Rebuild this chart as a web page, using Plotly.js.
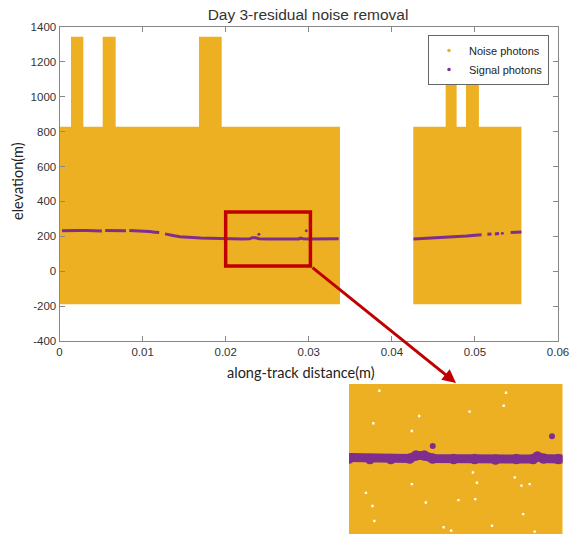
<!DOCTYPE html>
<html>
<head>
<meta charset="utf-8">
<script src="https://cdn.plot.ly/plotly-3.0.1.min.js"></script>
<style>
  html, body { margin: 0; padding: 0; background: #fff; }
  #chart { width: 570px; height: 536px; }
</style>
</head>
<body>
<div id="chart"></div>
<script>
// Noise photon footprint: along-track extent and elevation span of each block
const noiseStart = [0, 0.00138, 0.0052, 0.01679, 0.04258, 0.04648, 0.04892];
const noiseEnd   = [0.03376, 0.00287, 0.00676, 0.01952, 0.0556, 0.0478, 0.05048];
const noiseLow   = [-190, 800, 800, 800, -190, 800, 800];
const noiseHigh  = [828, 1344, 1344, 1344, 828, 1344, 1344];

// Signal photons (ground track), gaps marked with null
const signalX = [
  0.0003, 0.0012, 0.0022, 0.0032, 0.0042, 0.0051, null,
  0.0055, 0.0063, 0.0071, 0.0080, null,
  0.0084, 0.0092, 0.0100, 0.0108, 0.0115, 0.0120, null,
  0.0127, 0.0132, 0.0138, 0.0145, 0.0152, 0.0160, 0.0170, 0.0180, 0.0190, 0.0200,
  0.0210, 0.0220, 0.0229, 0.0232, 0.0236, 0.0240, 0.0250, 0.0260, 0.0270, 0.0280,
  0.0288, 0.0290, 0.0293, 0.0300, 0.0310, 0.0320, 0.0328, 0.0336, null,
  0.0426, 0.0435, 0.0445, 0.0455, 0.0465, 0.0475, 0.0482, 0.0490, 0.0497, 0.0502, 0.0508, null,
  0.0515, 0.0520, null,
  0.0524, 0.0529, null,
  0.0543, 0.0550, 0.0556
];
const signalY = [
  232, 234, 234, 233, 232, 231, null,
  233, 234, 233, 232, null,
  233, 232, 230, 227, 224, 222, null,
  214, 208, 203, 198, 195, 193, 190, 189, 187, 186,
  185, 185, 186, 192, 192, 186, 185, 185, 184, 185,
  185, 190, 186, 185, 186, 186, 185, 186, null,
  185, 187, 189, 191, 194, 197, 199, 202, 205, 207, 209, null,
  212, 213, null,
  214, 216, null,
  222, 224, 225
];

// Isolated signal photons
const strayX = [0.0240, 0.0297, 0.0533];
const strayY = [212, 232, 218];

// Empty spots inside the noise field (zoomed window)
const gapX = [0.02145, 0.0275, 0.02335, 0.02116, 0.0230, 0.02739, 0.02576, 0.02592, 0.02792,
              0.02611, 0.02863, 0.02824, 0.02081, 0.02603, 0.02367, 0.02112, 0.02832, 0.02121,
              0.02683, 0.02452, 0.02887, 0.02488, 0.0230, 0.02523];
const gapY = [326, 322, 274, 259, 243, 295, 283, 157, 147,
              136, 133, 130, 115, 102, 95, 88, 71, 57,
              47, 44, 35, 37, 133, 100];

// Zoom window
const zoomX = [0.02, 0.0302];
const zoomY = [30, 340];

// Axis ticks
const xTicks = [0, 0.01, 0.02, 0.03, 0.04, 0.05, 0.06];
const xTickText = ['0', '0.01', '0.02', '0.03', '0.04', '0.05', '0.06'];
const yTicks = [-400, -200, 0, 200, 400, 600, 800, 1000, 1200, 1400];

const ORANGE = '#ECB022';
const PURPLE = '#7E2F8E';
const RED = '#C00000';

function blocks() {
  const x = [], y = [];
  for (let i = 0; i < noiseStart.length; i++) {
    x.push(noiseStart[i], noiseEnd[i], noiseEnd[i], noiseStart[i], noiseStart[i], null);
    y.push(noiseLow[i], noiseLow[i], noiseHigh[i], noiseHigh[i], noiseLow[i], null);
  }
  return { x, y };
}
const nb = blocks();

function noiseTrace(xa, ya) {
  return { x: nb.x, y: nb.y, xaxis: xa, yaxis: ya, type: 'scatter', mode: 'lines',
    fill: 'toself', fillcolor: ORANGE, line: { width: 0, color: ORANGE },
    hoverinfo: 'skip', showlegend: false };
}

const data = [
  // main view
  noiseTrace('x', 'y'),
  { x: signalX, y: signalY, type: 'scatter', mode: 'lines',
    line: { color: PURPLE, width: 3 }, connectgaps: false,
    hoverinfo: 'skip', showlegend: false },
  { x: strayX, y: strayY, type: 'scatter', mode: 'markers',
    marker: { color: PURPLE, size: 3 }, hoverinfo: 'skip', showlegend: false },

  // magnified window
  noiseTrace('x2', 'y2'),
  { x: gapX, y: gapY, xaxis: 'x2', yaxis: 'y2', type: 'scatter', mode: 'markers',
    marker: { color: '#fff', size: 2.4, symbol: 'square', opacity: 0.95 },
    hoverinfo: 'skip', showlegend: false },
  { x: signalX, y: signalY, xaxis: 'x2', yaxis: 'y2', type: 'scatter', mode: 'lines+markers',
    line: { color: PURPLE, width: 9 }, marker: { color: PURPLE, size: 10.5 },
    connectgaps: false, hoverinfo: 'skip', showlegend: false },
  { x: strayX, y: strayY, xaxis: 'x2', yaxis: 'y2', type: 'scatter', mode: 'markers',
    marker: { color: PURPLE, size: 6 }, hoverinfo: 'skip', showlegend: false },

  // legend entries
  { x: [null], y: [null], type: 'scatter', mode: 'markers', name: 'Noise photons',
    marker: { color: ORANGE, size: 3.5 } },
  { x: [null], y: [null], type: 'scatter', mode: 'markers', name: 'Signal photons',
    marker: { color: PURPLE, size: 3.5 } }
];

const W = 570, H = 536;
const tickFont = { family: 'Arial, Liberation Sans, sans-serif', size: 11.5, color: '#333' };
const axisCommon = {
  ticks: 'inside', ticklen: 5, tickcolor: '#888', tickwidth: 1,
  showline: true, linecolor: '#888', linewidth: 1, mirror: 'ticks',
  zeroline: false, showgrid: false, tickfont: tickFont, fixedrange: true
};
const hiddenAxis = {
  showline: false, showticklabels: false, ticks: '', zeroline: false, showgrid: false, fixedrange: true
};

const layout = {
  width: W, height: H,
  margin: { l: 0, r: 0, t: 0, b: 0 },
  paper_bgcolor: '#fff', plot_bgcolor: 'rgba(0,0,0,0)',
  title: {
    text: 'Day 3-residual noise removal',
    font: { family: 'Arial, Liberation Sans, sans-serif', size: 15.5, color: '#333' },
    x: 308 / W, xanchor: 'center', xref: 'paper',
    y: 1 - 15 / H, yanchor: 'middle', yref: 'paper'
  },
  xaxis: Object.assign({}, axisCommon, {
    domain: [59.5 / W, 558 / W], range: [0, 0.06], anchor: 'y',
    tickvals: xTicks, ticktext: xTickText
  }),
  yaxis: Object.assign({}, axisCommon, {
    domain: [1 - 341 / H, 1 - 27 / H], range: [-400, 1400], anchor: 'x',
    tickvals: yTicks, ticktext: yTicks.map(String)
  }),
  xaxis2: Object.assign({}, hiddenAxis, { domain: [349 / W, 562.5 / W], range: zoomX, anchor: 'y2' }),
  yaxis2: Object.assign({}, hiddenAxis, { domain: [1 - 534 / H, 1 - 384 / H], range: zoomY, anchor: 'x2' }),
  showlegend: true,
  legend: {
    x: 549 / W, xanchor: 'right', y: 1 - 35 / H, yanchor: 'top',
    bgcolor: '#fff', bordercolor: '#666', borderwidth: 1,
    font: { family: 'Arial, Liberation Sans, sans-serif', size: 11, color: '#222' },
    tracegroupgap: 0
  },
  shapes: [{
    type: 'rect', xref: 'x', yref: 'y',
    x0: zoomX[0], x1: zoomX[1], y0: zoomY[0], y1: zoomY[1],
    line: { color: RED, width: 3.5 }, fillcolor: 'rgba(0,0,0,0)', layer: 'above'
  }],
  annotations: [
    {
      text: 'along-track distance(m)', xref: 'paper', yref: 'paper',
      x: 301 / W, y: 1 - 372 / H, xanchor: 'center', yanchor: 'middle', showarrow: false,
      font: { family: 'Lato, Open Sans, sans-serif', size: 14.5, color: '#222' }
    },
    {
      text: 'elevation(m)', xref: 'paper', yref: 'paper', textangle: -90,
      x: 17 / W, y: 1 - 181 / H, xanchor: 'center', yanchor: 'middle', showarrow: false,
      font: { family: 'Lato, Open Sans, sans-serif', size: 14.5, color: '#222' }
    },
    {
      text: '', xref: 'paper', yref: 'paper',
      x: 456 / W, y: 1 - 383 / H,
      ax: 311 - 456, ay: 266.5 - 383, axref: 'pixel', ayref: 'pixel',
      showarrow: true, arrowhead: 2, arrowsize: 0.9, arrowwidth: 3, arrowcolor: RED
    }
  ]
};

Plotly.newPlot('chart', data, layout, { displayModeBar: false, staticPlot: true });
</script>
</body>
</html>
